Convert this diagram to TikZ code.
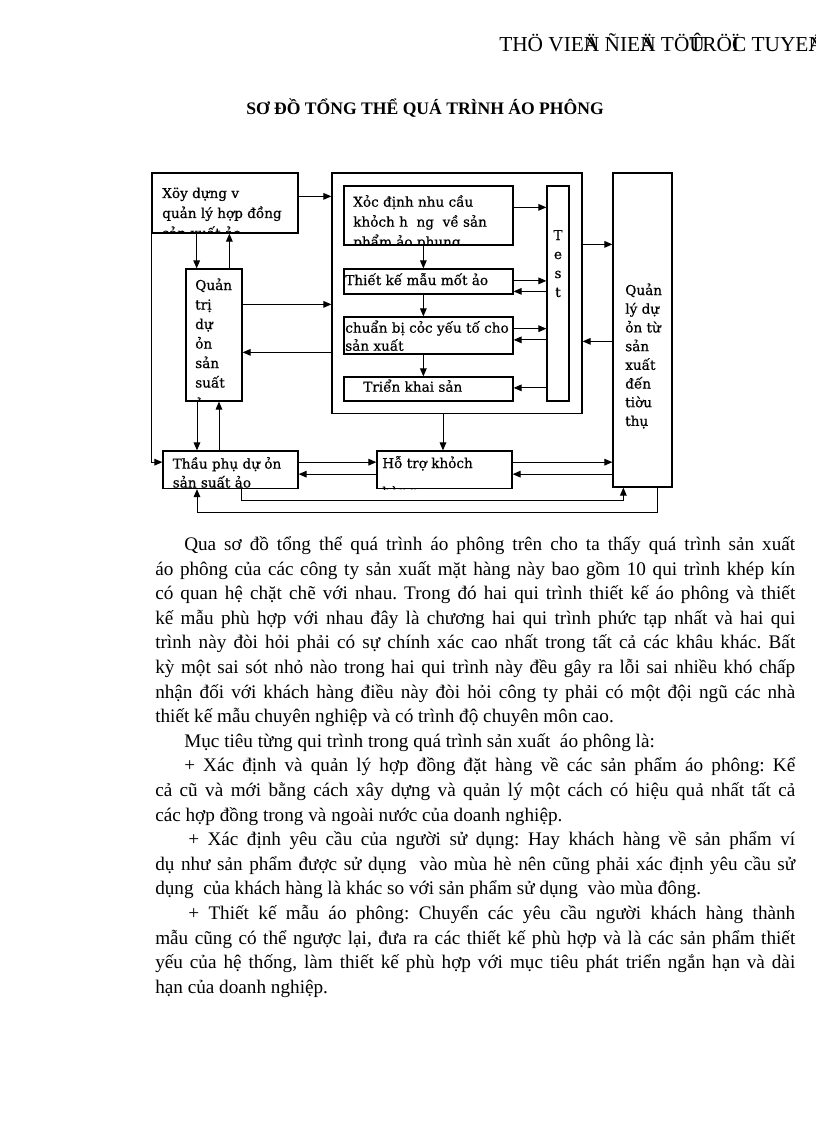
\documentclass[tikz,border=0pt]{standalone}
\usepackage{fontspec}
\setmainfont{Liberation Serif}
\newfontfamily\boxfont{DejaVu Serif}[FakeBold=0.6]
\usetikzlibrary{arrows.meta,fit,calc}
\newcommand\boxline[4]{\node[bt] (#1) at (#2,#3) {#4};}
\newcommand\justline[5]{\node[body] (#1) at (#2,#3) {\makebox[#4pt][s]{#5}};}
\newcommand\plainline[4]{\node[body] (#1) at (#2,#3) {#4};}
\newcommand\ov[1]{\rlap{#1}}
\begin{document}
\begin{tikzpicture}[x=0.75pt,y=-0.75pt,
  box/.style={draw,line width=0.95pt,inner sep=0pt},
  arr/.style={line width=0.7pt,-{Triangle[length=6pt,width=5pt]}},
  bt/.style={font=\boxfont\fontsize{10.2}{12}\selectfont,inner sep=0pt,anchor=base west},
  tt/.style={font=\boxfont\fontsize{10.2}{12}\selectfont,inner sep=0pt,anchor=base},
  body/.style={font=\frenchspacing\fontsize{14.4}{18}\selectfont,inner sep=0pt,anchor=base west},
]
\fill[white] (0,0) rectangle (816,1123);
\useasboundingbox (0,0) rectangle (816,1123);

% header and title
\node[anchor=base west,inner sep=0pt,font=\fontsize{16}{20}\selectfont] (hdr) at (499,52) {THÖ VIE\ov{Ä}N ÑIE\ov{Ä}N TÖ\ov{Û}TRÖ\ov{Ï}C TUYE\ov{Á}N};
\node[anchor=base,inner sep=0pt,font=\bfseries\fontsize{13.2}{16}\selectfont] (title) at (425,115) {SƠ ĐỒ TỔNG THỂ QUÁ TRÌNH ÁO PHÔNG};

% boxes
\node[box,fit={(152,173) (298,233)}] (A) {};
\node[box,fit={(186,269) (242,401)}] (B) {};
\node[box,fit={(163,451) (298,488.5)}] (C) {};
\node[box,fit={(332,173) (582,413.5)}] (M) {};
\node[box,fit={(344,186) (513,245)}] (D) {};
\node[box,fit={(344,269) (513,294)}] (E) {};
\node[box,fit={(344,317) (513,354)}] (F) {};
\node[box,fit={(344,377) (513,401)}] (G) {};
\node[box,fit={(547,186) (569,401)}] (T) {};
\node[box,fit={(613,173) (672,487)}] (Q) {};
\node[box,fit={(377,451) (512,488.5)}] (H) {};

% box texts (clipped to their boxes)
\begin{scope}
\clip (A.south west) rectangle (A.north east);
\boxline{a1}{162}{198}{Xöy dựng v}
\boxline{a2}{162}{218}{quản lý hợp đồng}
\boxline{a3}{162}{238}{sản xuất ảo}
\end{scope}
\begin{scope}
\clip (B.south west) rectangle (B.north east);
\boxline{b1}{195}{290}{Quản}
\boxline{b2}{195}{309.5}{trị}
\boxline{b3}{195}{329}{dự}
\boxline{b4}{195}{348.5}{ỏn}
\boxline{b5}{195}{368}{sản}
\boxline{b6}{195}{387.5}{suất}
\boxline{b7}{195}{409}{ảo}
\end{scope}
\begin{scope}
\clip (C.south west) rectangle (C.north east);
\boxline{c1}{172.5}{468.6}{Thầu phụ dự ỏn}
\boxline{c2}{172.5}{487.5}{sản suất ảo}
\end{scope}
\begin{scope}
\clip (D.south west) rectangle (D.north east);
\boxline{d1}{353}{206.7}{Xỏc định nhu cầu}
\boxline{d2}{353}{226.7}{khỏch h\ \ ng\ \ về sản}
\boxline{d3}{353}{246.7}{phẩm ảo phung}
\end{scope}
\begin{scope}
\clip (E.south west) rectangle (E.north east);
\boxline{e1}{345}{285}{Thiết kế mẫu mốt ảo}
\end{scope}
\begin{scope}
\clip (F.south west) rectangle (F.north east);
\boxline{f1}{345}{332.7}{chuẩn bị cỏc yếu tố cho}
\boxline{f2}{345}{350.7}{sản xuất}
\end{scope}
\begin{scope}
\clip (G.south west) rectangle (G.north east);
\boxline{g1}{363}{391.7}{Triển khai sản}
\boxline{g2}{363}{412}{xuất}
\end{scope}
\begin{scope}
\clip (H.south west) rectangle (H.north east);
\boxline{h1}{382}{468}{Hỗ trợ khỏch}
\boxline{h2}{382}{497}{hàng}
\end{scope}
\node[tt] (t1) at (558,240) {T};
\node[tt] (t2) at (558,259) {e};
\node[tt] (t3) at (558,278) {s};
\node[tt] (t4) at (558,297) {t};
\boxline{q1}{625}{295}{Quản}
\boxline{q2}{625}{313.7}{lý dự}
\boxline{q3}{625}{332.4}{ỏn từ}
\boxline{q4}{625}{351.1}{sản}
\boxline{q5}{625}{369.8}{xuất}
\boxline{q6}{625}{388.5}{đến}
\boxline{q7}{625}{407.2}{tiờu}
\boxline{q8}{625}{425.9}{thụ}

% connectors
\draw[arr] ($(A.north east)+(0,24)$) coordinate (p1) -- (p1 -| M.west);
\draw[arr] ($(A.south west)+(45.3,0)$) coordinate (p2) -- (p2 |- B.north);
\draw[arr] ($(B.north west)+(44,0)$) coordinate (p3) -- (p3 |- A.south);
\draw[arr] ($(B.north east)+(0,36)$) coordinate (p4) -- (p4 -| M.west);
\draw[arr] ($(M.north west)+(0,180)$) coordinate (p5) -- (p5 -| B.east);
\draw[arr] ($(B.south west)+(11.6,0)$) coordinate (p6) -- (p6 |- C.north);
\draw[arr] ($(C.north west)+(56.6,0)$) coordinate (p7) -- (p7 |- B.south);
\draw[arr] (A.south west) |- ($(C.north west)+(0,11.8)$);
\draw[arr] ($(D.north east)+(0,22)$) coordinate (p9) -- (p9 -| T.west);
\draw[arr] ($(D.south west)+(80,0)$) coordinate (p10) -- (p10 |- E.north);
\draw[arr] ($(E.north east)+(0,12.5)$) coordinate (p11) -- (p11 -| T.west);
\draw[arr] ($(T.north west)+(0,106)$) coordinate (p12) -- (p12 -| E.east);
\draw[arr] ($(E.south west)+(80,0)$) coordinate (p13) -- (p13 |- F.north);
\draw[arr] ($(F.north east)+(0,12.3)$) coordinate (p14) -- (p14 -| T.west);
\draw[arr] ($(T.north west)+(0,154.5)$) coordinate (p15) -- (p15 -| F.east);
\draw[arr] ($(F.south west)+(80,0)$) coordinate (p16) -- (p16 |- G.north);
\draw[arr] ($(T.north west)+(0,202.5)$) coordinate (p17) -- (p17 -| G.east);
\draw[arr] ($(M.north east)+(0,72)$) coordinate (p18) -- (p18 -| Q.west);
\draw[arr] ($(Q.north west)+(0,169)$) coordinate (p19) -- (p19 -| M.east);
\draw[arr] ($(M.south west)+(111.6,0)$) coordinate (p20) -- (p20 |- H.north);
\draw[arr] ($(C.north east)+(0,11.8)$) coordinate (p21) -- (p21 -| H.west);
\draw[arr] ($(H.north west)+(0,23.8)$) coordinate (p22) -- (p22 -| C.east);
\draw[arr] ($(H.north east)+(0,11.8)$) coordinate (p23) -- (p23 -| Q.west);
\draw[arr] ($(Q.north west)+(0,301.8)$) coordinate (p24) -- (p24 -| H.east);
\draw[arr] ($(C.south west)+(79,0)$) -- ++(0,11.5) -| ($(Q.south west)+(11,0)$);
\draw[arr] ($(Q.south west)+(45,0)$) -- ++(0,24.5) -| ($(C.south west)+(34.6,0)$);

% body text
\justline{l1}{184}{550.5}{458.25}{Qua sơ đồ tổng thể quá trình áo phông trên cho ta thấy quá trình sản xuất}
\justline{l2}{155}{575.1}{480}{áo phông của các công ty sản xuất mặt hàng này bao gồm 10 qui trình khép kín}
\justline{l3}{155}{599.7}{480}{có quan hệ chặt chẽ với nhau. Trong đó hai qui trình thiết kế áo phông và thiết}
\justline{l4}{155}{624.3}{480}{kế mẫu phù hợp với nhau đây là chương hai qui trình phức tạp nhất và hai qui}
\justline{l5}{155}{648.9}{480}{trình này đòi hỏi phải có sự chính xác cao nhất trong tất cả các khâu khác. Bất}
\justline{l6}{155}{673.5}{480}{kỳ một sai sót nhỏ nào trong hai qui trình này đều gây ra lỗi sai nhiều khó chấp}
\justline{l7}{155}{698.1}{480}{nhận đối với khách hàng điều này đòi hỏi công ty phải có một đội ngũ các nhà}
\plainline{l8}{155}{722.7}{thiết kế mẫu chuyên nghiệp và có trình độ chuyên môn cao.}
\plainline{l9}{184}{747.3}{Mục tiêu từng qui trình trong quá trình sản xuất \ áo phông là:}
\justline{l10}{184}{771.9}{458.25}{+ Xác định và quản lý hợp đồng đặt hàng về các sản phẩm áo phông: Kể}
\justline{l11}{155}{796.5}{480}{cả cũ và mới bằng cách xây dựng và quản lý một cách có hiệu quả nhất tất cả}
\plainline{l12}{155}{821.1}{các hợp đồng trong và ngoài nước của doanh nghiệp.}
\justline{l13}{188}{845.7}{455.25}{+ Xác định yêu cầu của người sử dụng: Hay khách hàng về sản phẩm ví}
\justline{l14}{155}{870.3}{480}{dụ như sản phẩm được sử dụng \ vào mùa hè nên cũng phải xác định yêu cầu sử}
\plainline{l15}{155}{894.9}{dụng \ của khách hàng là khác so với sản phẩm sử dụng \ vào mùa đông.}
\justline{l16}{188}{919.5}{455.25}{+ Thiết kế mẫu áo phông: Chuyển các yêu cầu người khách hàng thành}
\justline{l17}{155}{944.1}{480}{mẫu cũng có thể ngược lại, đưa ra các thiết kế phù hợp và là các sản phẩm thiết}
\justline{l18}{155}{968.7}{480}{yếu của hệ thống, làm thiết kế phù hợp với mục tiêu phát triển ngắn hạn và dài}
\plainline{l19}{155}{993.3}{hạn của doanh nghiệp.}
\end{tikzpicture}
\end{document}
